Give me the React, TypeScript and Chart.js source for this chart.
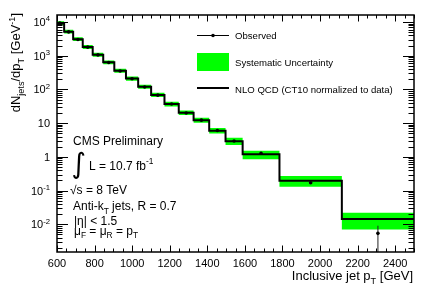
import React, { useEffect, useRef } from "react";
import { Chart, registerables } from "chart.js";
Chart.register(...registerables);

// ---- data ----
const binEdges = [592, 638, 686, 737, 790, 846, 905, 967, 1032, 1101, 1172, 1248, 1327, 1410, 1497, 1588, 1784, 2116, 2500];
const nloValues = [9200, 5200, 3100, 1820, 1070, 640, 360, 210, 120, 69, 37, 20.5, 12.2, 6.0, 2.9, 1.19, 0.197, 0.0144];
const observedValues = [9400, 5100, 3050, 1800, 1060, 630, 355, 208, 118, 68, 37, 20, 12.3, 6.1, 2.95, 1.28, 0.171, 0.0054];
const observedErrHigh = [0, 0, 0, 0, 0, 0, 0, 0, 0, 0, 0, 0, 0, 0, 0, 0, 0.01, 0.0037];
const observedErrLow = [0, 0, 0, 0, 0, 0, 0, 0, 0, 0, 0, 0, 0, 0, 0, 0, 0.01, 0.0044];
const sysUp = [0.14, 0.14, 0.14, 0.14, 0.14, 0.14, 0.15, 0.15, 0.15, 0.16, 0.17, 0.17, 0.18, 0.2, 0.27, 0.28, 0.38, 0.54];
const sysDown = [0.12, 0.12, 0.12, 0.12, 0.12, 0.12, 0.13, 0.13, 0.13, 0.14, 0.15, 0.15, 0.16, 0.18, 0.22, 0.29, 0.34, 0.51];

const xMin = 600;
const xMax = 2500;
const yMin = 0.00151;
const yMax = 16200;
const xMajorTicks = [600, 800, 1000, 1200, 1400, 1600, 1800, 2000, 2200, 2400];
const xTickLabels = ["600", "800", "1000", "1200", "1400", "1600", "1800", "2000", "2200", "2400"];
const yMajorTicks = [0.01, 0.1, 1, 10, 100, 1000, 10000];
const yTickBase = ["10", "10", "1", "10", "10", "10", "10"];
const yTickExp = ["-2", "-1", "", "", "2", "3", "4"];

const legendLabels = ["Observed", "Systematic Uncertainty", "NLO QCD (CT10 normalized to data)"];
const xTitle = "Inclusive jet p";
const FONT = "'Liberation Sans', Arial, Helvetica, sans-serif";

type Seg = { t: string; s?: "sub" | "sup" };

function richWidth(ctx: CanvasRenderingContext2D, segs: Seg[], size: number) {
  let w = 0;
  for (const sg of segs) {
    const fs = sg.s ? size * 0.7 : size;
    ctx.font = `${fs}px ${FONT}`;
    w += ctx.measureText(sg.t).width;
  }
  return w;
}

function drawRich(ctx: CanvasRenderingContext2D, segs: Seg[], x: number, y: number, size: number, align: "left" | "right" | "center") {
  const w = richWidth(ctx, segs, size);
  let cx = align === "left" ? x : align === "right" ? x - w : x - w / 2;
  ctx.textAlign = "left";
  for (const sg of segs) {
    const fs = sg.s ? size * 0.7 : size;
    ctx.font = `${fs}px ${FONT}`;
    const dy = sg.s === "sup" ? -size * 0.42 : sg.s === "sub" ? size * 0.3 : 0;
    ctx.fillText(sg.t, cx, y + dy);
    cx += ctx.measureText(sg.t).width;
  }
}

const overlayPlugin = {
  id: "overlay",
  afterDraw(chart: any) {
    const { ctx, chartArea: a, scales } = chart;
    const xs = scales.x;
    const ys = scales.y;
    ctx.save();
    ctx.strokeStyle = "#000";
    ctx.fillStyle = "#000";
    const seg = (x1: number, y1: number, x2: number, y2: number) => {
      ctx.beginPath();
      ctx.moveTo(x1, y1);
      ctx.lineTo(x2, y2);
      ctx.stroke();
    };
    // x ticks
    ctx.lineWidth = 1;
    for (let v = xMin; v <= xMax; v += 50) {
      const px = Math.round(xs.getPixelForValue(v)) + 0.5;
      const major = xMajorTicks.includes(v);
      const len = major ? 6.5 : 3.5;
      seg(px, a.bottom, px, a.bottom - len);
      seg(px, a.top, px, a.top + len);
    }
    // y ticks
    for (let k = -3; k <= 4; k++) {
      for (let m = 1; m <= 9; m++) {
        const v = m * Math.pow(10, k);
        if (v < yMin || v > yMax) continue;
        const py = Math.round(ys.getPixelForValue(v)) + 0.5;
        const len = m === 1 ? 11 : 5.5;
        seg(a.left, py, a.left + len, py);
        seg(a.right, py, a.right - len, py);
      }
    }
    // frame
    ctx.lineWidth = 1.5;
    ctx.strokeRect(a.left, a.top, a.right - a.left, a.bottom - a.top);

    // x tick labels
    ctx.textBaseline = "alphabetic";
    ctx.font = `11px ${FONT}`;
    ctx.textAlign = "center";
    xMajorTicks.forEach((v, i) => {
      ctx.fillText(xTickLabels[i], xs.getPixelForValue(v), 266.5);
    });
    // y tick labels
    yMajorTicks.forEach((v, i) => {
      const py = ys.getPixelForValue(v);
      const segs: Seg[] = [{ t: yTickBase[i] }];
      if (yTickExp[i]) segs.push({ t: yTickExp[i], s: "sup" });
      drawRich(ctx, segs, 50, py + 4, 11, "right");
    });

    // axis titles
    drawRich(ctx, [{ t: xTitle }, { t: "T", s: "sub" }, { t: " [GeV]" }], 413, 280, 13, "right");
    ctx.save();
    ctx.translate(20, 13);
    ctx.rotate(-Math.PI / 2);
    drawRich(
      ctx,
      [{ t: "dN" }, { t: "jets", s: "sub" }, { t: "/dp" }, { t: "T", s: "sub" }, { t: " [GeV" }, { t: "-1", s: "sup" }, { t: "]" }],
      0,
      0,
      13,
      "right"
    );
    ctx.restore();

    // legend
    ctx.lineWidth = 1;
    seg(197, 35.5, 229, 35.5);
    ctx.beginPath();
    ctx.arc(213, 35.5, 1.8, 0, Math.PI * 2);
    ctx.fill();
    ctx.fillStyle = "#00ff00";
    ctx.fillRect(197, 53, 32, 18);
    ctx.fillStyle = "#000";
    ctx.lineWidth = 2;
    seg(197, 88, 229, 88);
    ctx.font = `9.6px ${FONT}`;
    ctx.textAlign = "left";
    ctx.fillText(legendLabels[0], 235, 39);
    ctx.fillText(legendLabels[1], 235, 66);
    ctx.fillText(legendLabels[2], 235, 93);

    // annotations
    drawRich(ctx, [{ t: "CMS Preliminary" }], 73, 144.5, 12, "left");
    ctx.font = `28px 'DejaVu Sans', ${FONT}`;
    ctx.fillText("\u222B", 71.5, 173.4);
    drawRich(ctx, [{ t: "L = 10.7 fb" }, { t: "-1", s: "sup" }], 89, 169.5, 12, "left");
    drawRich(ctx, [{ t: "\u221As = 8 TeV" }], 70, 194, 12, "left");
    drawRich(ctx, [{ t: "Anti-k" }, { t: "T", s: "sub" }, { t: " jets, R = 0.7" }], 73, 210, 12, "left");
    drawRich(ctx, [{ t: "|\u03B7| < 1.5" }], 74, 225, 12, "left");
    drawRich(
      ctx,
      [{ t: "\u03BC" }, { t: "F", s: "sub" }, { t: " = \u03BC" }, { t: "R", s: "sub" }, { t: " = p" }, { t: "T", s: "sub" }],
      74,
      234.5,
      12,
      "left"
    );
    ctx.restore();
  },
};

function stepData(vals: number[]) {
  const n = vals.length;
  return binEdges.map((e, i) => ({ x: e, y: vals[Math.min(i, n - 1)] }));
}

export default function App() {
  const ref = useRef<HTMLCanvasElement>(null);
  useEffect(() => {
    document.body.style.margin = "0";
    const canvas = ref.current;
    if (!canvas) return;
    const centers = nloValues.map((_, i) => (binEdges[i] + binEdges[i + 1]) / 2);
    const bandHigh = nloValues.map((v, i) => v * (1 + sysUp[i]));
    const bandLow = nloValues.map((v, i) => v * (1 - sysDown[i]));
    const errData: any[] = [];
    observedValues.forEach((v, i) => {
      if (observedErrHigh[i] > 0 || observedErrLow[i] > 0) {
        errData.push({ x: centers[i], y: Math.max(v - observedErrLow[i], 1e-4) });
        errData.push({ x: centers[i], y: v + observedErrHigh[i] });
        errData.push({ x: centers[i], y: null });
      }
    });
    const chart = new Chart(canvas, {
      type: "line",
      data: {
        datasets: [
          {
            label: "bandHigh",
            data: stepData(bandHigh),
            stepped: "before",
            borderWidth: 0,
            borderColor: "rgba(0,0,0,0)",
            backgroundColor: "#00ff00",
            pointRadius: 0,
            fill: "+1",
            order: 4,
          },
          {
            label: "bandLow",
            data: stepData(bandLow),
            stepped: "before",
            borderWidth: 0,
            borderColor: "rgba(0,0,0,0)",
            pointRadius: 0,
            fill: false,
            order: 5,
          },
          {
            label: "NLO",
            data: stepData(nloValues),
            stepped: "before",
            borderWidth: 2,
            borderColor: "#000",
            pointRadius: 0,
            fill: false,
            order: 3,
          },
          {
            label: "err",
            data: errData,
            borderWidth: 1,
            borderColor: "#222",
            pointRadius: 0,
            spanGaps: false,
            fill: false,
            order: 2,
          },
          {
            label: "Observed",
            data: observedValues.map((v, i) => ({ x: centers[i], y: v })),
            showLine: false,
            pointRadius: 1.8,
            pointBorderWidth: 0,
            pointBackgroundColor: "#000",
            borderColor: "#000",
            fill: false,
            order: 1,
          },
        ] as any,
      },
      options: {
        responsive: false,
        animation: false,
        layout: { padding: { left: 57, right: 22, top: 15, bottom: 39 } },
        plugins: { legend: { display: false }, tooltip: { enabled: false } },
        scales: {
          x: { type: "linear", min: xMin, max: xMax, display: false },
          y: { type: "logarithmic", min: yMin, max: yMax, display: false },
        },
      } as any,
      plugins: [overlayPlugin],
    });
    return () => chart.destroy();
  }, []);
  return <canvas ref={ref} width={436} height={291} style={{ display: "block" }} />;
}
